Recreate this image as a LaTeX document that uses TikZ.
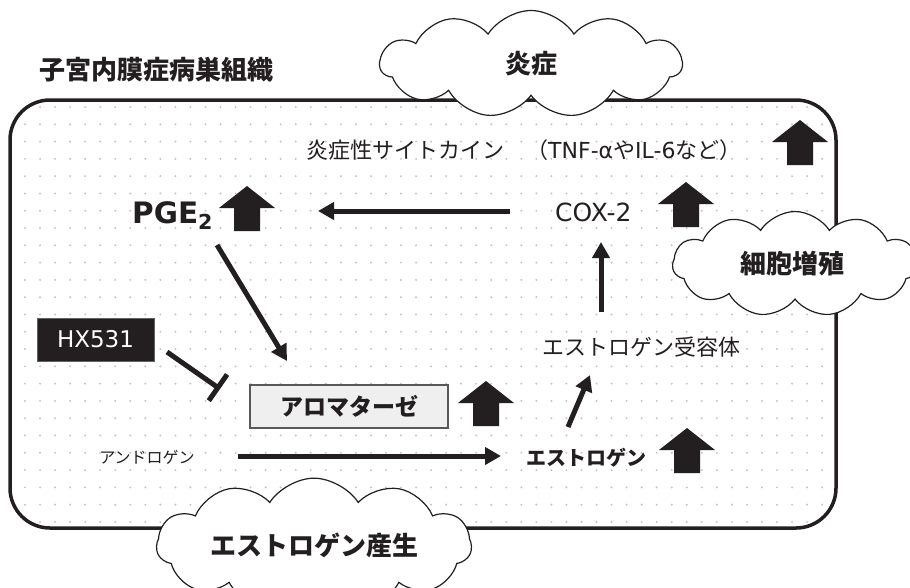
\documentclass[tikz,border=0pt]{standalone}
\usepackage{fontspec}
\setmainfont{DejaVu Sans}
\newfontfamily\jp{Noto Sans CJK JP}
\usetikzlibrary{arrows.meta,shapes.symbols}
\definecolor{ink}{HTML}{231F20}
\definecolor{dotc}{HTML}{C4C4C4}
\definecolor{boxfill}{HTML}{EFEFEF}
\newcommand{\setfs}[1]{\fontsize{#1}{#1}\selectfont}
\begin{document}
\begin{tikzpicture}[x=1pt,y=-1pt,
  conn/.style={draw=ink,line width=5pt,-{Triangle[length=16pt,width=17pt]}},
  inhib/.style={draw=ink,line width=5pt,-{Bar[width=32pt]}},
  cloudbox/.style={cloud,cloud puffs=11,cloud puff arc=115,draw=ink,line width=1.2pt,fill=white,inner sep=0pt,font=\jp\bfseries\setfs{26},text=ink},
  uparr/.pic={\fill[ink] (0,0) -- (28,22) -- (13,22) -- (13,45) -- (-13,45) -- (-13,22) -- (-28,22) -- cycle;},
  jpreg/.style={font=\jp\setfs{#1},text=ink,inner sep=0pt},
  jpbold/.style={font=\jp\bfseries\setfs{#1},text=ink,inner sep=0pt}]
\useasboundingbox (0,0) rectangle (910,587);
\fill[white] (0,0) rectangle (910,587);
% dotted background
\begin{scope}
  \clip[rounded corners=40pt] (12,102) rectangle (834,526);
  \foreach \i in {0,...,53}{
    \foreach \j in {0,...,24}{
      \fill[dotc] ({25+15.04*\i},{107+17.29*\j}) circle (1.1);
    }
  }
\end{scope}
\draw[ink,line width=3.5pt,rounded corners=40pt] (10,100) rectangle (836,528);

% title
\node[jpbold=26] (title) at (156,70) {子宮内膜症病巣組織};

% texts
\node[jpreg=22,anchor=west] (cyto) at (306,150) {炎症性サイトカイン　（\rmfamily TNF-α\jp や\rmfamily IL-6\jp など）};
\node[font=\bfseries\setfs{29.5},text=ink,inner sep=0pt,anchor=base west] (pge) at (132,223) {PGE\textsubscript{2}};
\node[font=\setfs{25},text=ink,inner sep=0pt,anchor=base west] (cox) at (555,221) {COX-2};
\node[jpreg=22] (er) at (641,347) {エストロゲン受容体};
\node[fill=ink,draw=ink!70,line width=1pt,minimum width=117pt,minimum height=43pt,inner sep=0pt,font=\setfs{23},text=white] (hx) at (95.5,339.5) {HX531};
\node[fill=boxfill,draw=ink!75,line width=1.5pt,minimum width=198pt,minimum height=43pt,inner sep=0pt,jpbold=23] (arom) at (349,406.5) {アロマターゼ};
\node[jpreg=16] (andro) at (147,457) {アンドロゲン};
\node[jpbold=20] (estro) at (586,458) {エストロゲン};

% block up-arrows
\pic at (800,120) {uparr};
\pic at (247,186) {uparr};
\pic at (686,182) {uparr};
\pic at (486,381) {uparr};
\pic at (687,428) {uparr};

% connectors
\coordinate (coxL) at (510,211);
\coordinate (pgeR) at (318,211);
\draw[conn] (coxL) -- (pgeR);
\coordinate (erT) at (601,312);
\coordinate (coxB) at (601,242);
\draw[conn] (erT) -- (coxB);
\coordinate (pgeB) at (217,245);
\coordinate (aromT) at (287,361);
\draw[conn] (pgeB) -- (aromT);
\coordinate (hxR) at (167,352);
\coordinate (aromL) at (220,389);
\draw[inhib] (hxR) -- (aromL);
\coordinate (estT) at (568,427);
\coordinate (erB) at (590,375);
\draw[conn] (estT) -- (erB);
\coordinate (andR) at (238,456);
\coordinate (estL) at (501,456);
\draw[conn] (andR) -- (estL);

% clouds
\node[cloudbox,minimum width=302pt,minimum height=107pt,aspect=2.8] (c1) at (531,64) {炎症};
\node[cloudbox,minimum width=245pt,minimum height=105pt,aspect=2.3] (c2) at (795,264) {\hspace*{-6pt}細胞増殖};
\node[cloudbox,minimum width=315pt,minimum height=96pt,aspect=3.2] (c3) at (314,545) {エストロゲン産生};
\end{tikzpicture}
\end{document}
